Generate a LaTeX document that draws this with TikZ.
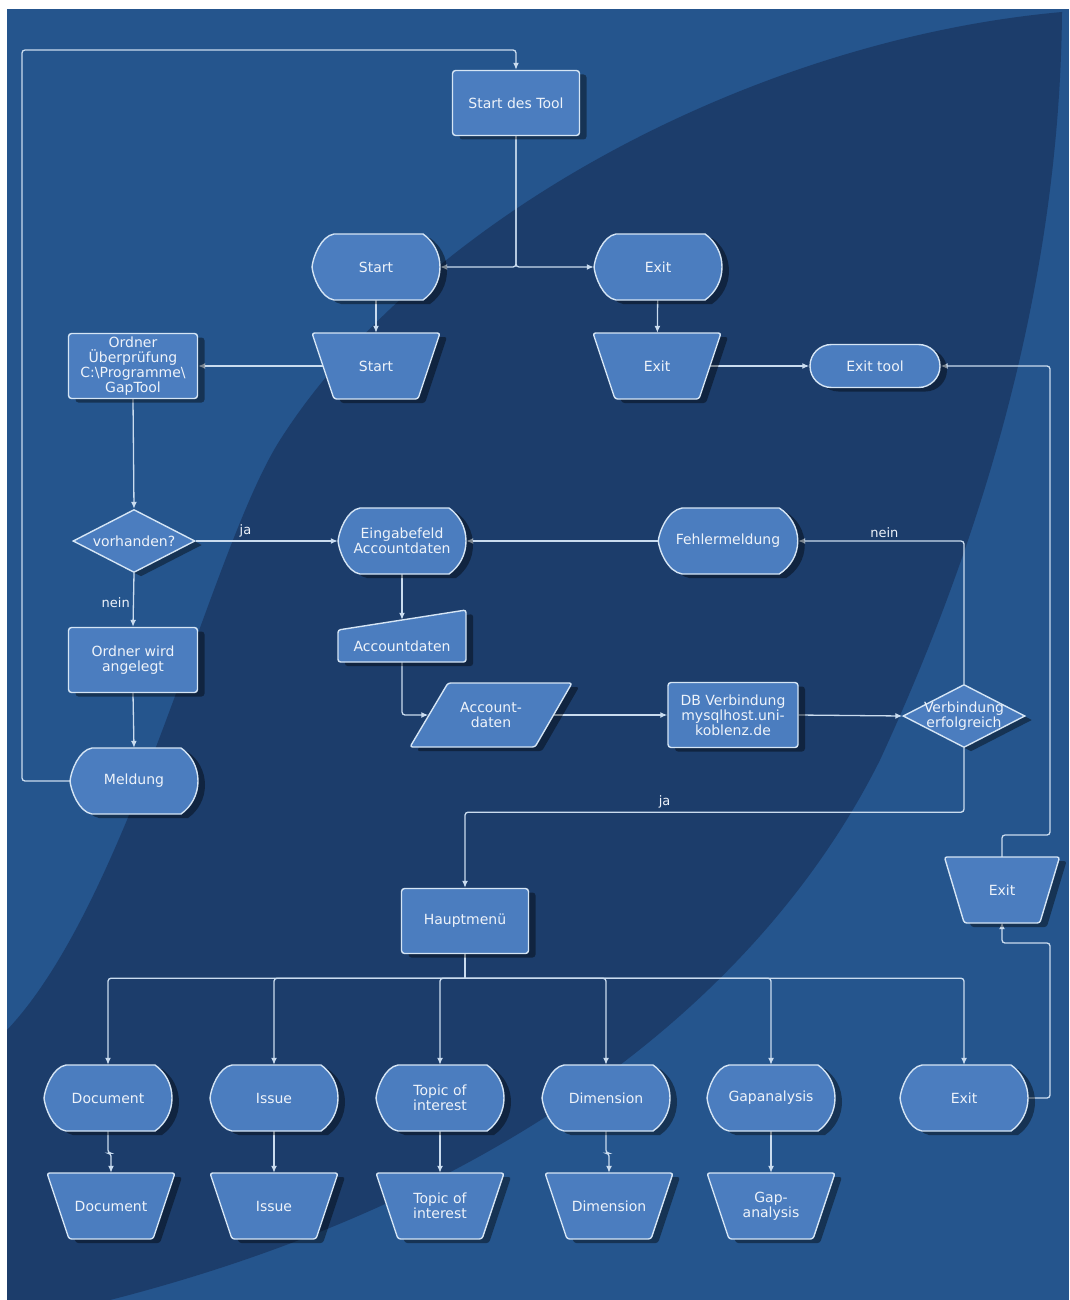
\documentclass[tikz,border=0pt]{standalone}
\usepackage{fontspec}
\setmainfont{DejaVu Sans}
\usetikzlibrary{shapes.geometric,shadows,arrows.meta,calc}
\definecolor{bglight}{HTML}{25558D}
\definecolor{bgdark}{HTML}{1C3D6B}
\definecolor{nodefill}{HTML}{4B7DBF}
\definecolor{nodeline}{HTML}{D5E5F5}
\definecolor{linkcol}{HTML}{CADCEF}
\definecolor{txtcol}{HTML}{EEF3FA}
\pgfdeclarelayer{back}
\pgfdeclarelayer{links}
\pgfdeclarelayer{shapes}
\pgfsetlayers{back,links,shapes,main}

\begin{document}
\begin{tikzpicture}[x=1pt,y=-1pt,
	every node/.style={font=\fontsize{14}{15}\selectfont, text=txtcol},
	shade/.style={drop shadow={shadow xshift=7pt, shadow yshift=-4pt, opacity=.4, fill=black}},
	proc/.style={rectangle, rounded corners=3pt, fill=nodefill, draw=nodeline, line width=1.4pt, minimum width=127pt, minimum height=65pt, inner sep=2pt, align=center, shade},
	decide/.style={diamond, aspect=2, fill=nodefill, draw=nodeline, line width=1.4pt, minimum width=122pt, minimum height=63pt, inner sep=-8pt, align=center, shade},
	term/.style={rectangle, rounded corners=21.5pt, fill=nodefill, draw=nodeline, line width=1.4pt, minimum width=130pt, minimum height=43pt, shade},
	holder/.style={rectangle, minimum width=128pt, minimum height=66pt, inner sep=0pt, align=center},
	outline/.style={fill=nodefill, draw=nodeline, line width=1.4pt, line join=round, shade},
	link/.style={draw=linkcol, line width=1.3pt, rounded corners=3pt, -{Latex[length=7pt,width=6pt]}},
	wire/.style={draw=linkcol, line width=1.3pt},
	lbl/.style={font=\fontsize{13}{14}\selectfont, text=txtcol, inner sep=3pt}]

	\useasboundingbox (0,0) rectangle (1069,1300);
	\begin{pgfonlayer}{back}
		\fill[white] (0,0) rectangle (1069,1300);
		\fill[bglight] (7,9) rectangle (1069,1300);
		\fill[bgdark] (1062,12) .. controls (750,40) and (420,220) .. (280,440) .. controls (210,550) and (130,900) .. (7,1030) -- (7,1300) -- (110,1300) .. controls (500,1200) and (760,1000) .. (880,760) .. controls (1000,500) and (1060,250) .. cycle;
	\end{pgfonlayer}

	\node[proc] (toolStart) at (516,103) {Start des Tool};
	\node[holder] (startD) at (376,267) {Start};
	\node[holder] (exitD) at (658,267) {Exit};
	\node[holder] (startT) at (376,366) {Start};
	\node[holder] (exitT) at (657,366) {Exit};
	\node[proc, minimum width=129pt] (ordner) at (133,366) {Ordner\\Überprüfung\\C:\textbackslash Programme\textbackslash\\GapTool};
	\node[term] (exitTool) at (875,366) {Exit tool};
	\node[decide] (vorh) at (134,541) {vorhanden?};
	\node[proc, minimum width=129pt] (angelegt) at (133,660) {Ordner wird\\angelegt};
	\node[holder] (meldung) at (134,781) {Meldung};
	\node[holder] (eingD) at (402,541) {Eingabefeld\\Accountdaten};
	\node[holder, minimum height=32pt] (accIn) at (402,646) {Accountdaten};
	\node[holder, minimum width=125pt] (accD) at (491,715) {Account-\\daten};
	\node[proc, minimum width=130pt] (dbBox) at (733,715) {DB Verbindung\\mysqlhost.uni-\\koblenz.de};
	\node[decide] (verb) at (964,716) {Verbindung\\erfolgreich};
	\node[holder, minimum width=140pt] (fehlD) at (728,541) {Fehlermeldung};
	\node[proc] (haupt) at (465,921) {Hauptmenü};
	\node[holder, minimum width=115pt, minimum height=64pt] (quitT) at (1002,890) {Exit};

	\node[holder] (docD) at (108,1098) {Document};
	\node[holder] (issD) at (274,1098) {Issue};
	\node[holder] (topD) at (440,1098) {Topic of\\interest};
	\node[holder] (dimD) at (606,1098) {Dimension};
	\node[holder] (gapD) at (771,1098) {Gapanalysis};
	\node[holder] (quitD) at (964,1098) {Exit};
	\node[holder] (docT) at (111,1206) {Document};
	\node[holder] (issT) at (274,1206) {Issue};
	\node[holder] (topT) at (440,1206) {Topic of\\interest};
	\node[holder] (dimT) at (609,1206) {Dimension};
	\node[holder] (gapT) at (771,1206) {Gap-\\analysis};

	\begin{pgfonlayer}{shapes}
		\foreach \n/\s in {startD/1,exitD/1,eingD/1,fehlD/1.09,meldung/1,docD/1,issD/1,topD/1,dimD/1,gapD/1,quitD/1}
			\path[outline, shift={(\n.center)}, xscale=\s] (-42,-33) -- (47,-33) .. controls (57,-26) and (64,-14) .. (64,0) .. controls (64,14) and (57,26) .. (47,33) -- (-42,33) .. controls (-55,31) and (-63,10) .. (-64,0) .. controls (-63,-10) and (-55,-31) .. cycle;
		\foreach \n/\s in {startT/1,exitT/1,docT/1,issT/1,topT/1,dimT/1,gapT/1,quitT/0.9}
			\path[outline, rounded corners=2.5pt, shift={(\n.center)}, xscale=\s] (-64,-33) -- (64,-33) -- (42,33) -- (-42,33) -- cycle;
		\path[outline, rounded corners=2.5pt, shift={(accIn.center)}] (-64,-16) -- (64,-36) -- (64,16) -- (-64,16) -- cycle;
		\path[outline, rounded corners=2.5pt, shift={(accD.center)}] (-43,-32) -- (81,-32) -- (44,32) -- (-81,32) -- cycle;
	\end{pgfonlayer}

	\coordinate (loopCorner) at (22,50);
	\coordinate (loopLow) at (1050,943);
	\coordinate (loopHigh) at (1050,835);
	\begin{pgfonlayer}{links}
		\draw[link] (toolStart.south) |- (startD.east);
		\draw[link] (toolStart.south) |- (exitD.west);
		\draw[link] (startD) -- (startT);
		\draw[link] (exitD) -- (exitT);
		\draw[link] (startT.center) -- (ordner.east);
		\draw[link] (exitT.center) -- (exitTool.west);
		\draw[link] (ordner.south) -- (vorh.north);
		\draw[link] (vorh.east) -- node[lbl, above, pos=0.35] {ja} (eingD.west);
		\draw[link] (vorh.south) -- node[lbl, left, pos=0.55] {nein} (angelegt.north);
		\draw[link] (angelegt.south) -- (meldung.north);
		\draw[link] (meldung.west) -| (loopCorner) -| (toolStart.north);
		\draw[link] (eingD.south) -- ($(accIn.north)+(0,-10)$);
		\draw[link] (accIn.south) |- (accD.west);
		\draw[link] (accD.east) -- (dbBox.west);
		\draw[link] (dbBox.east) -- (verb.west);
		\draw[link] (verb.north) |- node[lbl, above, pos=0.74] {nein} (fehlD.east);
		\draw[link] (fehlD.west) -- (eingD.east);
		\draw[link] (verb.south) -- ++(0,64) -| node[lbl, above, pos=0.3] {ja} (haupt.north);
		\draw[wire] (haupt.south) -- ++(0,24) coordinate (bus);
		\foreach \n in {docD,issD,topD,dimD,gapD,quitD}
			\draw[link] (bus) -| (\n.north);
		\foreach \a/\b in {docD/docT,issD/issT,topD/topT,dimD/dimT,gapD/gapT}
			\draw[link] (\a.south) -- ++(0,22) -| (\b.north);
		\draw[link] (quitD.east) -| (loopLow) -| (quitT.south);
		\draw[link] (quitT.north) |- (loopHigh) |- (exitTool.east);
	\end{pgfonlayer}
\end{tikzpicture}
\end{document}
